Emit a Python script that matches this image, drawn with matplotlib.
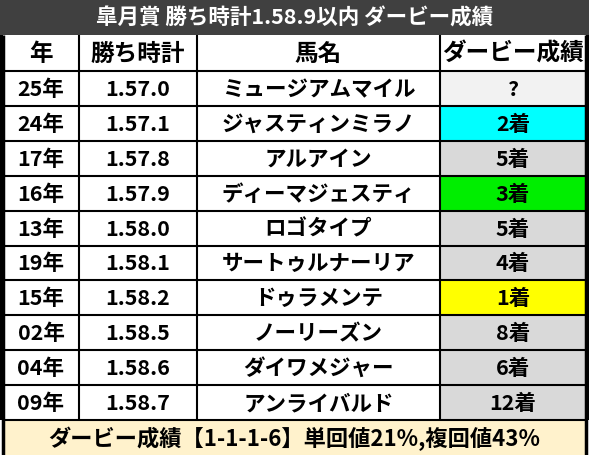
import matplotlib.pyplot as plt
from matplotlib.patches import Rectangle

plt.rcParams['font.family'] = ['Noto Sans CJK JP', 'DejaVu Sans']

TITLE = "皐月賞 勝ち時計1.58.9以内 ダービー成績"
HEADERS = ["年", "勝ち時計", "馬名", "ダービー成績"]
years = ["25年", "24年", "17年", "16年", "13年", "19年", "15年", "02年", "04年", "09年"]
times = ["1.57.0", "1.57.1", "1.57.8", "1.57.9", "1.58.0", "1.58.1", "1.58.2", "1.58.5", "1.58.6", "1.58.7"]
horses = ["ミュージアムマイル", "ジャスティンミラノ", "アルアイン", "ディーマジェスティ", "ロゴタイプ",
          "サートゥルナーリア", "ドゥラメンテ", "ノーリーズン", "ダイワメジャー", "アンライバルド"]
results = ["?", "2着", "5着", "3着", "5着", "4着", "1着", "8着", "6着", "12着"]
FOOTER = "ダービー成績【1-1-1-6】単回値21%,複回値43%"

RESULT_COLORS = {"?": "#f2f2f2", "1着": "#ffff00", "2着": "#00ffff", "3着": "#00ee00"}
OTHER_COLOR = "#d9d9d9"

W, H = 589, 455
col_x = [3, 79, 197, 440, 586]
title_h, header_b, footer_t = 35, 71, 420
row_h = (footer_t - header_b) / len(years)
FS = 15.5

fig = plt.figure(figsize=(W / 100, H / 100), dpi=100)
ax = fig.add_axes([0, 0, 1, 1])
ax.set_xlim(0, W)
ax.set_ylim(H, 0)
ax.axis("off")

# title bar
ax.add_patch(Rectangle((0, 0), W, title_h, facecolor="#404040", edgecolor="none"))
ax.text(W / 2, title_h / 2 + 1, TITLE, color="white", fontsize=FS, weight="bold",
        ha="center", va="center")

# body background
ax.add_patch(Rectangle((0, title_h), W, footer_t - title_h, facecolor="black", edgecolor="none"))
ax.add_patch(Rectangle((col_x[0], title_h), col_x[-1] - col_x[0], footer_t - title_h,
                       facecolor="white", edgecolor="none"))

for i, (y, t, h, r) in enumerate(zip(years, times, horses, results)):
    top = header_b + i * row_h
    ax.add_patch(Rectangle((col_x[3], top), col_x[4] - col_x[3], row_h,
                           facecolor=RESULT_COLORS.get(r, OTHER_COLOR), edgecolor="none"))
    for j, s in enumerate([y, t, h, r]):
        ax.text((col_x[j] + col_x[j + 1]) / 2, top + row_h / 2 + 1, s, fontsize=FS,
                weight="bold", ha="center", va="center")

for j, s in enumerate(HEADERS):
    ax.text((col_x[j] + col_x[j + 1]) / 2, (title_h + header_b) / 2 + 1, s, fontsize=17,
            weight="bold", ha="center", va="center")

# grid lines
ax.hlines([header_b + i * row_h for i in range(len(years))], col_x[0], col_x[-1],
          color="black", lw=1.5)
ax.vlines(col_x[1:-1], title_h, footer_t, color="black", lw=1.5)
ax.vlines([col_x[0], col_x[-1]], title_h, H, color="black", lw=2.5)

# footer
ax.add_patch(Rectangle((col_x[0], footer_t), col_x[-1] - col_x[0], H - footer_t,
                       facecolor="#fff2cc", edgecolor="none"))
ax.hlines(footer_t, col_x[0], col_x[-1], color="black", lw=1.5)
ax.text(W / 2, (footer_t + H) / 2 + 1, FOOTER, fontsize=16, weight="bold",
        ha="center", va="center")

fig.savefig("out.png", dpi=100)
